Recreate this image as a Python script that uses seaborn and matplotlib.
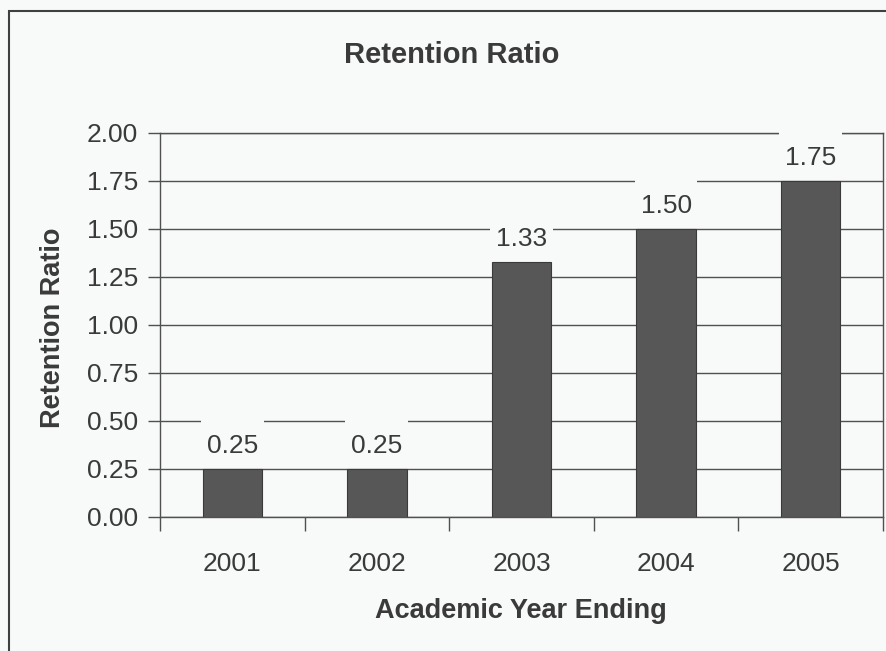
import matplotlib
matplotlib.use("Agg")
import matplotlib.pyplot as plt
import seaborn as sns
import pandas as pd
from matplotlib.patches import Rectangle
from matplotlib.path import Path
from matplotlib.ticker import FixedLocator

years = ["2001", "2002", "2003", "2004", "2005"]
ratios = [0.25, 0.25, 1.33, 1.50, 1.75]
bar_labels = ["0.25", "0.25", "1.33", "1.50", "1.75"]
yticks = [0.00, 0.25, 0.50, 0.75, 1.00, 1.25, 1.50, 1.75, 2.00]

df = pd.DataFrame({"Year": years, "Ratio": ratios})

sns.set_theme(style="white")
plt.rcParams['font.family'] = ['Liberation Sans', 'DejaVu Sans']

BG = "#f8f9f9"
TXT = "#3a3a3a"
LINE = "#505050"

W, H = 887, 651
fig = plt.figure(figsize=(W / 100, H / 100), dpi=100, facecolor=BG)
ax = fig.add_axes([160 / W, 1 - 517 / H, (883 - 160) / W, (517 - 133) / H])
ax.set_facecolor(BG)

sns.barplot(data=df, x="Year", y="Ratio", ax=ax, color="#575757",
            edgecolor="#3a3a3a", linewidth=0.8, width=0.41, saturation=1,
            zorder=3)

ax.set_ylim(0, 2.0)
ax.set_xlim(-0.5, len(years) - 0.5)
ax.set_yticks(yticks)
ax.set_yticklabels([f"{v:.2f}" for v in yticks])
ax.yaxis.grid(True, color=LINE, linewidth=1.0, zorder=0)
ax.set_axisbelow(True)

ax.xaxis.set_minor_locator(FixedLocator([i - 0.5 for i in range(len(years) + 1)]))
ax.tick_params(axis="x", which="major", length=0, pad=25, labelsize=19, labelcolor=TXT)
ax.tick_params(axis="x", which="minor", length=10, width=1, color=LINE, direction="out", bottom=True)
ax.tick_params(axis="y", which="major", length=9, width=1, color=LINE, direction="out",
               left=True, pad=7, labelsize=19, labelcolor=TXT)

for s in ax.spines.values():
    s.set_color(LINE)
    s.set_linewidth(1.0)

ax.set_xlabel("")
ax.set_ylabel("")


def label_box(x0, y0, width, height, mutation_size):
    padx = 0.22 * mutation_size
    top = 0.55 * mutation_size
    bot = 0.12 * mutation_size
    xa, xb = x0 - padx, x0 + width + padx
    ya, yb = y0 - bot, y0 + height + top
    return Path([(xa, ya), (xb, ya), (xb, yb), (xa, yb), (xa, ya)], closed=True)


for i, (v, lab) in enumerate(zip(ratios, bar_labels)):
    ax.annotate(lab, xy=(i, v), xytext=(0, 8.0), textcoords="offset points",
                ha="center", va="bottom", fontsize=19, color=TXT, zorder=5,
                bbox=dict(boxstyle=label_box, facecolor=BG, edgecolor="none"))

fig.text(452 / W, 1 - 55 / H, "Retention Ratio", ha="center", va="center",
         fontsize=21, fontweight="bold", color=TXT)
fig.text(521 / W, 1 - 611 / H, "Academic Year Ending", ha="center", va="center",
         fontsize=19.5, fontweight="bold", color=TXT)
fig.text(53 / W, 1 - 328 / H, "Retention Ratio", ha="center", va="center",
         rotation=90, fontsize=19.5, fontweight="bold", color=TXT)

fig.patches.append(Rectangle((9 / W, -0.1), 1.2, 1 - 11 / H + 0.1,
                             transform=fig.transFigure, fill=False,
                             edgecolor="#404040", linewidth=1.5))

fig.savefig("out.png", dpi=100, facecolor=BG)
